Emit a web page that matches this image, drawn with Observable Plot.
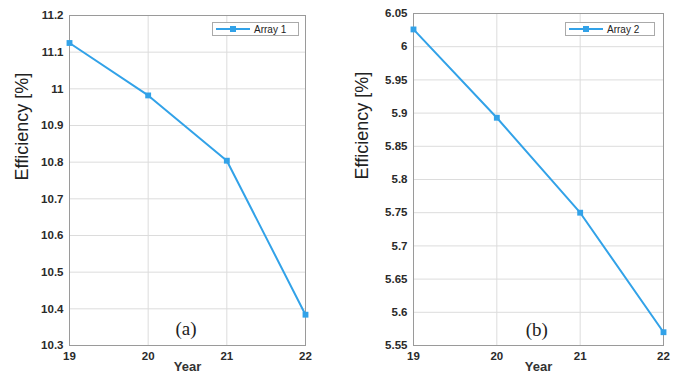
<!DOCTYPE html>
<html><head><meta charset="utf-8">
<script src="https://cdn.jsdelivr.net/npm/d3@7"></script>
<script src="https://cdn.jsdelivr.net/npm/@observablehq/plot@0.6"></script>
<style>
body{margin:0;background:#fff;font-family:"Liberation Sans",Arial,sans-serif;}
#wrap{display:flex;width:685px;height:383px;overflow:hidden;}
.panel{position:relative;}
.legend{position:absolute;background:#fff;border:1px solid #aaa;box-sizing:border-box;font-size:10px;color:#222;display:flex;align-items:center;}
.legend svg{margin-left:3px;margin-right:4px;}
</style>
</head><body>
<div id="wrap"></div>
<script>
const years = [19, 20, 21, 22];
const xTicks = [19, 20, 21, 22];
const array1 = [11.125, 10.982, 10.804, 10.384];
const array2 = [6.026, 5.893, 5.750, 5.570];
const yTicks1 = [10.3, 10.4, 10.5, 10.6, 10.7, 10.8, 10.9, 11, 11.1, 11.2];
const yTicks2 = [5.55, 5.6, 5.65, 5.7, 5.75, 5.8, 5.85, 5.9, 5.95, 6, 6.05];
const seriesNames = ["Array 1", "Array 2"];
const tags = ["(a)", "(b)"];

const blue = "#32a2e8";
const fmt = d => String(+d.toFixed(2));

function panel(opts) {
  const data = years.map((y, i) => ({year: y, eff: opts.values[i]}));
  const chart = Plot.plot({
    width: opts.width, height: 383,
    marginLeft: opts.ml, marginRight: opts.mr, marginTop: opts.mt, marginBottom: 38,
    style: {fontFamily: '"Liberation Sans", Arial, sans-serif', background: "#fff"},
    x: {domain: [19, 22]},
    y: {domain: [opts.yTicks[0], opts.yTicks[opts.yTicks.length - 1]]},
    marks: [
      Plot.gridX(xTicks, {stroke: "#dcdcdc", strokeOpacity: 1}),
      Plot.gridY(opts.yTicks, {stroke: "#dcdcdc", strokeOpacity: 1}),
      Plot.frame({stroke: "#9a9a9a"}),
      Plot.axisX(xTicks, {tickSize: 0, tickPadding: 6, fontSize: 11.5, fill: "#2a2a2a", fontWeight: 600, label: null}),
      Plot.axisY(opts.yTicks, {tickSize: 0, tickPadding: 6, fontSize: 11.5, fill: "#2a2a2a", fontWeight: 600, tickFormat: fmt, label: null}),
      Plot.text(["Efficiency [%]"], {frameAnchor: "left", rotate: -90, dx: -(opts.ml - 22), fontSize: 18, fill: "#222"}),
      Plot.text(["Year"], {frameAnchor: "bottom", dy: 25, fontSize: 13, fill: "#333", fontWeight: "bold"}),
      Plot.line(data, {x: "year", y: "eff", stroke: blue, strokeWidth: 2}),
      Plot.dot(data, {x: "year", y: "eff", symbol: "square", r: 3.3, fill: blue, stroke: "none"}),
      Plot.text([opts.tag], {x: 20.48, y: opts.tagY, fontSize: 19, fontFamily: '"Liberation Serif", serif', fill: "#222"})
    ]
  });
  const div = document.createElement("div");
  div.className = "panel";
  div.style.width = opts.width + "px";
  div.appendChild(chart);
  const lg = document.createElement("div");
  lg.className = "legend";
  lg.style.left = opts.lgLeft + "px";
  lg.style.top = opts.lgTop + "px";
  lg.style.width = opts.lgWidth + "px";
  lg.style.height = "14px";
  lg.innerHTML = `<svg width="34" height="8"><line x1="0" y1="4" x2="34" y2="4" stroke="${blue}" stroke-width="2"/><rect x="14" y="1" width="6" height="6" fill="${blue}"/></svg><span>${opts.name}</span>`;
  div.appendChild(lg);
  document.getElementById("wrap").appendChild(div);
}

panel({width: 340, ml: 69, mr: 35, mt: 15, values: array1, yTicks: yTicks1, tag: tags[0], tagY: 10.346, name: seriesNames[0], lgLeft: 212, lgTop: 22, lgWidth: 87});
panel({width: 345, ml: 73, mr: 22, mt: 13, values: array2, yTicks: yTicks2, tag: tags[1], tagY: 5.573, name: seriesNames[1], lgLeft: 225, lgTop: 22, lgWidth: 90});
</script>
</body></html>
